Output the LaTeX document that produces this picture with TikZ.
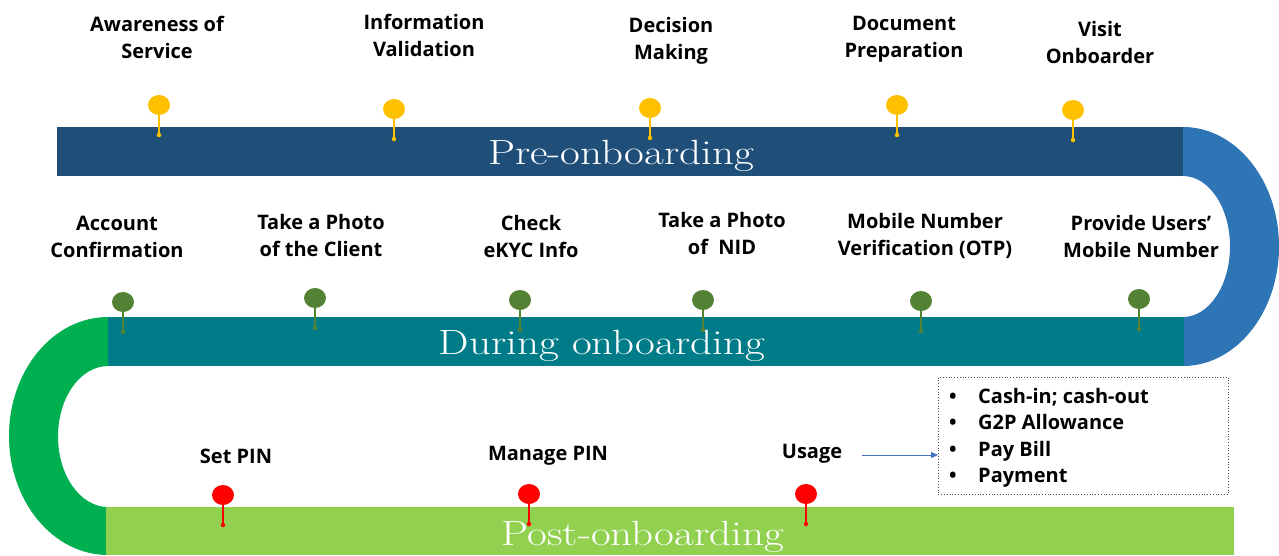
\documentclass[tikz,border=0pt]{standalone}
\usepackage{fontspec}
\setsansfont{Open Sans}
\newfontfamily\stagefont[FakeStretch=1.23]{Latin Modern Roman}
\usetikzlibrary{shapes.geometric,arrows.meta}
\definecolor{preBar}{HTML}{1F4E79}
\definecolor{preArc}{HTML}{2E75B6}
\definecolor{durBar}{HTML}{007C89}
\definecolor{durArc}{HTML}{00B050}
\definecolor{postBar}{HTML}{92D050}
\definecolor{pinY}{HTML}{FFC000}
\definecolor{pinG}{HTML}{548235}
\definecolor{pinR}{HTML}{FF0000}
\definecolor{arrowBlue}{HTML}{4472C4}
\begin{document}
\begin{tikzpicture}[x=1pt,y=-1pt,
  steplabel/.style={font=\sffamily\bfseries\fontsize{20}{27}\selectfont, align=center, inner sep=0pt, anchor=base},
  bartext/.style={font=\stagefont\fontsize{35}{40}\selectfont, text=white, inner sep=0pt, anchor=base},
  pinhead/.style={ellipse, fill=#1, minimum width=22pt, minimum height=20pt, inner sep=0pt},
  pindot/.style={circle, fill=#1, minimum size=4.5pt, inner sep=0pt},
  pinstem/.style={draw=#1, line width=1.1pt},
  listbox/.style={draw=black!70, dotted, line width=0.8pt, minimum width=290pt, minimum height=117pt, inner sep=0pt, anchor=north west},
  listtext/.style={font=\sffamily\bfseries\fontsize{20}{26.5}\selectfont, align=left, inner sep=0pt, anchor=north west}
]
\useasboundingbox (0,0) rectangle (1279,555);

% track: three bars joined by two half-rings
\fill[preBar] (57,127) rectangle (1184,176);
\fill[preArc] (1183,127) arc[start angle=-90, end angle=90, x radius=96, y radius=119.5]
  -- (1183,317) arc[start angle=90, end angle=-90, x radius=47, y radius=70.5] -- cycle;
\fill[durBar] (108,317) rectangle (1184,366);
\fill[durArc] (108,317) arc[start angle=270, end angle=90, x radius=99, y radius=119]
  -- (108,507) arc[start angle=90, end angle=270, x radius=50, y radius=70.5] -- cycle;
\fill[postBar] (106,507) rectangle (1234,555);

% stage names
\node[bartext] (pre)  at (621,164) {Pre-onboarding};
\node[bartext] (dur)  at (602,354) {During onboarding};
\node[bartext] (post) at (643,545) {Post-onboarding};

% pins
\foreach \n/\x/\y/\c in {a1/159/105/pinY, a2/394/109/pinY, a3/650/108/pinY, a4/897/105/pinY, a5/1073/110/pinY,
                        b1/123/302/pinG, b2/315/298/pinG, b3/520/300/pinG, b4/703/300/pinG, b5/921/301/pinG, b6/1139/299/pinG,
                        c1/223/495/pinR, c2/529/494/pinR, c3/806/494/pinR}{
  \node[pindot=\c] (\n d) at (\x,\y+30) {};
  \draw[pinstem=\c] (\x,\y) -- (\n d.center);
  \node[pinhead=\c] (\n) at (\x,\y) {};
}

% step labels (anchored on the baseline of the last line)
\node[steplabel] (l1) at (157,58) {Awareness of\\Service};
\node[steplabel] (l2) at (424,56) {Information\\Validation};
\node[steplabel] (l3) at (671,59) {Decision\\Making};
\node[steplabel] (l4) at (904,57) {Document\\Preparation};
\node[steplabel] (l5) at (1100,63) {Visit\\Onboarder};
\node[steplabel] (m1) at (117,257) {Account\\Confirmation};
\node[steplabel] (m2) at (321,256) {Take a Photo\\of the Client};
\node[steplabel] (m3) at (531,257) {Check\\eKYC Info};
\node[steplabel] (m4) at (722,254) {Take a Photo\\of\ \ NID};
\node[steplabel] (m5) at (925,255) {Mobile Number\\Verification (OTP)};
\node[steplabel] (m6) at (1141,257) {Provide Users’\\Mobile Number};
\node[steplabel] (n1) at (236,463) {Set PIN};
\node[steplabel] (n2) at (548,460) {Manage PIN};
\node[steplabel] (n3) at (812,458) {Usage};

% usage options
\node[listbox] (box) at (938,377) {};
\node[listtext] (opts) at (949,388) {%
  \makebox[29pt][l]{\textbullet}Cash-in; cash-out\\
  \makebox[29pt][l]{\textbullet}G2P Allowance\\
  \makebox[29pt][l]{\textbullet}Pay Bill\\
  \makebox[29pt][l]{\textbullet}Payment};
\draw[arrowBlue, line width=1pt, -{Triangle[length=7pt,width=6pt]}] ([xshift=20pt]n3.east |- 0,455) -- (box.west |- 0,455);
\end{tikzpicture}
\end{document}
